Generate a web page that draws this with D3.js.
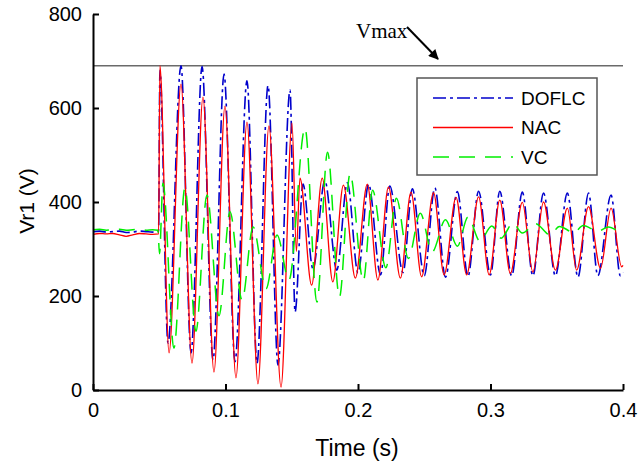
<!DOCTYPE html>
<html>
<head>
<meta charset="utf-8">
<script src="https://cdn.jsdelivr.net/npm/d3@7"></script>
<style>
  body { margin: 0; background: #fff; }
  svg { display: block; }
</style>
</head>
<body>
<div id="chart"></div>
<script>
// values, [time (s), Vr1 (V)]
let doflc = [[0,337],[0.005,338],[0.01,336],[0.015,337],[0.02,338],[0.025,335],[0.03,336],[0.035,338],[0.04,337],[0.045,336],[0.0495,338],
    [0.0505,680],[0.0566,100],[0.0664,690],[0.074,79],[0.0823,688],[0.0906,64],[0.0989,672],[0.1072,60],[0.1162,658],[0.1238,57],[0.1321,648],[0.1396,53],[0.1487,638],
    [0.1525,166],[0.1585,438],[0.166,258],[0.175,445],[0.184,255],[0.192,441],[0.200,249],[0.208,438],[0.217,245],[0.224,434],[0.234,250],[0.241,428],[0.250,243],
    [0.258,430],[0.266,240],[0.275,422],[0.283,242],[0.291,423],[0.300,245],[0.307,423],[0.316,243],[0.324,421],[0.332,243],[0.340,419],[0.349,243],[0.358,419],
    [0.366,240],[0.374,419],[0.381,243],[0.391,415],[0.398,243],[0.4,250]];

let nac = [[0,331],[0.005,333],[0.01,332],[0.015,333],[0.02,330],[0.025,327],[0.03,330],[0.035,333],[0.04,332],[0.045,331],[0.0495,332],
    [0.0505,690],[0.0574,79],[0.0664,651],[0.0747,57],[0.083,623],[0.0913,38],[0.0996,604],[0.1079,26],[0.1162,570],[0.1245,13],[0.1328,562],[0.1419,6],[0.1502,568],
    [0.1535,295],[0.1562,451],[0.165,223],[0.173,451],[0.181,230],[0.189,436],[0.198,238],[0.207,438],[0.215,234],[0.223,432],[0.232,238],[0.240,421],[0.248,241],
    [0.257,420],[0.265,245],[0.274,410],[0.282,245],[0.291,411],[0.299,245],[0.307,404],[0.315,248],[0.324,399],[0.332,251],[0.340,400],[0.349,255],[0.358,387],
    [0.365,255],[0.374,390],[0.383,259],[0.391,387],[0.399,262],[0.4,265]];

let vc = [[0,341],[0.005,342],[0.01,340],[0.015,341],[0.02,342],[0.025,340],[0.03,341],[0.035,342],[0.04,340],[0.045,341],[0.049,340],
    [0.0502,290],[0.0528,440],[0.0611,89],[0.0694,430],[0.0777,125],[0.086,415],[0.0951,158],[0.1034,379],[0.1125,191],[0.1208,347],[0.1306,215],[0.1389,330],[0.1479,234],
    [0.160,557],[0.169,187],[0.177,506],[0.186,198],[0.194,460],[0.204,232],[0.211,425],[0.221,260],[0.229,408],[0.238,280],[0.247,376],[0.256,294],[0.266,362],
    [0.275,306],[0.283,368],[0.292,317],[0.301,349],[0.308,323],[0.317,355],[0.324,334],[0.334,354],[0.345,330],[0.352,348],[0.363,335],[0.370,350],[0.381,338],
    [0.389,347],[0.395,340]];

let vmax = 690;
let xTicks = [0, 0.1, 0.2, 0.3, 0.4];
let xTickLabels = ["0", "0.1", "0.2", "0.3", "0.4"];
let yTicks = [0, 200, 400, 600, 800];
let legendNames = ["DOFLC", "NAC", "VC"];

// window for the chart
let W = 638, H = 468;
let margin = { top: 14, right: 15, bottom: 78, left: 93 },
    width = W - margin.left - margin.right,
    height = H - margin.top - margin.bottom;

let svg = d3.select("#chart").append("svg")
    .attr("width", W)
    .attr("height", H);

let x = d3.scaleLinear().domain([0, 0.4]).range([margin.left, margin.left + width]);
let y = d3.scaleLinear().domain([0, 800]).range([margin.top + height, margin.top]);

let line = d3.line()
    .x(function(d) { return x(d[0]); })
    .y(function(d) { return y(d[1]); })
    .curve(d3.curveMonotoneX);

// Vmax limit line
svg.append("line")
    .attr("x1", x(0)).attr("x2", x(0.4))
    .attr("y1", y(vmax)).attr("y2", y(vmax))
    .style("stroke", "#6a6a6a")
    .style("stroke-width", "1.6px");

let series = [
    { name: legendNames[0], data: doflc, color: "#0000cc", dash: "13,4,3,4", w: 1.6 },
    { name: legendNames[1], data: nac, color: "#ff0000", dash: null, w: 1.3 },
    { name: legendNames[2], data: vc, color: "#00ee00", dash: "16,10", w: 1.5 }
];

series.forEach(function(s) {
    svg.append("path")
        .datum(s.data)
        .attr("d", line)
        .style("fill", "none")
        .style("stroke", s.color)
        .style("stroke-width", s.w + "px")
        .style("stroke-dasharray", s.dash);
});

// axes, ticks pointing into the plot
let xAxis = svg.append("g")
    .attr("transform", "translate(0," + (margin.top + height) + ")")
    .call(d3.axisBottom(x).tickValues(xTicks)
        .tickFormat(function(d, i) { return xTickLabels[i]; })
        .tickSizeInner(-6).tickSizeOuter(0).tickPadding(13));

let yAxis = svg.append("g")
    .attr("transform", "translate(" + margin.left + ",0)")
    .call(d3.axisLeft(y).tickValues(yTicks)
        .tickSizeInner(-6).tickSizeOuter(0).tickPadding(11));

[xAxis, yAxis].forEach(function(a) {
    a.select(".domain").style("stroke", "#000").style("stroke-width", "2px");
    a.selectAll(".tick line").style("stroke", "#000").style("stroke-width", "2px");
    a.selectAll("text")
        .style("font-family", "'Liberation Sans', Arial, sans-serif")
        .style("font-size", "20px")
        .style("fill", "#000");
});

// axis titles
svg.append("text")
    .attr("x", 357).attr("y", 456)
    .attr("text-anchor", "middle")
    .style("font-family", "'Liberation Sans', Arial, sans-serif")
    .style("font-size", "23px")
    .text("Time (s)");

svg.append("text")
    .attr("transform", "translate(34," + 201 + ") rotate(-90)")
    .attr("text-anchor", "middle")
    .style("font-family", "'Liberation Sans', Arial, sans-serif")
    .style("font-size", "21px")
    .text("Vr1 (V)");

// Vmax annotation with arrow
svg.append("defs").append("marker")
    .attr("id", "arrow")
    .attr("viewBox", "0 0 10 10")
    .attr("refX", 9).attr("refY", 5)
    .attr("markerWidth", 12).attr("markerHeight", 10)
    .attr("markerUnits", "userSpaceOnUse")
    .attr("orient", "auto")
    .append("path")
    .attr("d", "M0,0 L10,5 L0,10 Z")
    .style("fill", "#000");

svg.append("text")
    .attr("x", 356).attr("y", 38)
    .style("font-family", "'Liberation Serif', 'Times New Roman', serif")
    .style("font-size", "21px")
    .text("Vmax");

svg.append("line")
    .attr("x1", 407).attr("y1", 27)
    .attr("x2", 438).attr("y2", 59)
    .style("stroke", "#000")
    .style("stroke-width", "2px")
    .attr("marker-end", "url(#arrow)");

// legend
let legend = svg.append("g");
legend.append("rect")
    .attr("x", 417).attr("y", 78)
    .attr("width", 180).attr("height", 97)
    .style("fill", "#fff")
    .style("stroke", "#555")
    .style("stroke-width", "1.5px");

series.forEach(function(s, i) {
    let ly = 98 + i * 29.5;
    legend.append("line")
        .attr("x1", 433).attr("x2", 513)
        .attr("y1", ly).attr("y2", ly)
        .style("stroke", s.color)
        .style("stroke-width", s.w + "px")
        .style("stroke-dasharray", s.dash);
    legend.append("text")
        .attr("x", 521).attr("y", ly)
        .attr("dy", "0.36em")
        .style("font-family", "'Liberation Sans', Arial, sans-serif")
        .style("font-size", "19px")
        .text(s.name);
});
</script>
</body>
</html>
